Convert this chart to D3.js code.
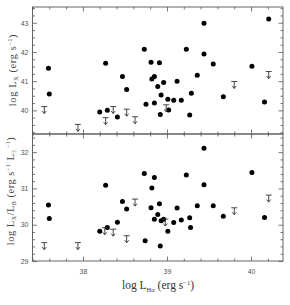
<!DOCTYPE html>
<html>
<head>
<meta charset="utf-8">
<script src="https://cdn.jsdelivr.net/npm/d3@7"></script>
<style>
  body { margin: 0; background: #fff; }
  svg { display: block; }
</style>
</head>
<body>
<script>
// top panel: log Lx vs log L_Halpha
const topX = [37.59, 37.60, 38.27, 38.47, 38.52, 38.73, 38.75, 38.20, 38.29, 38.41,
  39.44, 40.21, 39.23, 39.44, 38.81, 38.91, 39.55, 40.01, 38.85, 38.82,
  39.36, 39.12, 38.96, 38.89, 39.29, 38.93, 39.01, 39.08, 39.17, 39.67,
  38.85, 40.16, 39.02, 38.92, 39.27];
const topY = [41.44, 40.56, 41.61, 41.16, 40.71, 42.09, 40.21, 39.94, 40.00, 39.77,
  42.98, 43.13, 42.09, 41.93, 41.65, 41.63, 41.59, 41.51, 41.16, 41.07,
  41.20, 41.00, 40.95, 40.82, 40.59, 40.53, 40.38, 40.35, 40.35, 40.47,
  40.25, 40.29, 40.01, 39.86, 39.84];
const topLimX = [37.54, 37.94, 38.27, 38.36, 38.52, 38.62, 38.99, 39.80, 40.21];
const topLimY = [40.01, 39.40, 39.63, 40.01, 39.92, 39.66, 40.07, 40.87, 41.21];

// bottom panel: log Lx/LB vs log L_Halpha
const botX = [37.59, 37.60, 38.27, 38.47, 38.52, 38.73, 38.20, 38.29, 38.41, 38.74,
  39.44, 38.85, 39.23, 39.44, 40.01, 38.82, 38.91, 38.81, 39.12, 39.36,
  39.55, 38.89, 38.85, 38.93, 38.96, 39.17, 39.27, 39.08, 39.01, 39.28,
  39.67, 40.16, 38.92];
const botY = [30.54, 30.17, 31.09, 30.64, 30.43, 31.41, 29.82, 29.92, 30.07, 29.56,
  32.11, 31.30, 31.37, 31.10, 31.44, 31.01, 30.58, 30.47, 30.46, 30.52,
  30.52, 30.28, 30.15, 30.11, 30.15, 30.13, 30.19, 30.06, 29.82, 29.92,
  30.23, 30.20, 29.41];
const botLimX = [37.54, 37.94, 38.26, 38.36, 38.52, 38.62, 38.98, 39.80, 40.21];
const botLimY = [29.41, 29.41, 29.82, 29.78, 29.60, 30.61, 30.06, 30.37, 30.72];

const xTicks = [38, 39, 40];
const topTicks = [40, 41, 42, 43];
const botTicks = [29, 30, 31, 32];

const W = 290, H = 305;
const left = 32.5, right = 283;

const svg = d3.select("body").append("svg")
    .attr("width", W)
    .attr("height", H);

const x = d3.scaleLinear().domain([37.4, 40.38]).range([left, right]);
const yTop = d3.scaleLinear().domain([39.19, 43.54]).range([134, 7]);
const yBot = d3.scaleLinear().domain([29, 32.5]).range([261, 134]);

const xMinor = d3.range(37.4, 40.4, 0.2).filter(v => Math.abs(v - Math.round(v)) > 0.01);

function inwardAxis(axisFn, scale, ticks, size, labels, pad) {
    return axisFn(scale)
        .tickValues(ticks)
        .tickSizeInner(-size)
        .tickSizeOuter(0)
        .tickPadding(pad)
        .tickFormat(labels ? d3.format("d") : "");
}

function drawPanel(yScale, yMajor, yMinor, xLabels) {
    const g = svg.append("g");
    const y0 = yScale.range()[0], y1 = yScale.range()[1];

    // bottom / top
    [[d3.axisBottom, y0], [d3.axisTop, y1]].forEach(function(a, i) {
        g.append("g").attr("transform", "translate(0," + a[1] + ")")
            .call(inwardAxis(a[0], x, xMinor, 2.5, false, 0));
        g.append("g")
            .attr("transform", "translate(0," + a[1] + ")")
            .call(inwardAxis(a[0], x, xTicks, 4.5, i === 0 && xLabels, 8));
    });
    // left / right
    [[d3.axisLeft, left], [d3.axisRight, right]].forEach(function(a, i) {
        g.append("g").attr("transform", "translate(" + a[1] + ",0)")
            .call(inwardAxis(a[0], yScale, yMinor, 2.5, false, 0));
        g.append("g").attr("transform", "translate(" + a[1] + ",0)")
            .call(inwardAxis(a[0], yScale, yMajor, 4.5, i === 0, 4));
    });

    g.selectAll(".domain").remove();
    g.selectAll(".tick line").attr("stroke", "#555").attr("stroke-width", 0.8);
    g.selectAll(".tick text")
        .attr("font-family", "Liberation Sans, Arial, sans-serif")
        .attr("font-size", 7)
        .attr("fill", "#555");

    g.append("rect")
        .attr("x", left).attr("y", y1)
        .attr("width", right - left).attr("height", y0 - y1)
        .attr("fill", "none").attr("stroke", "#555").attr("stroke-width", 0.9);
    return g;
}

function drawPoints(g, xs, ys, yScale) {
    g.selectAll("circle.pt")
        .data(xs.map((d, i) => [d, ys[i]]))
        .enter().append("circle")
        .attr("class", "pt")
        .attr("cx", d => x(d[0]))
        .attr("cy", d => yScale(d[1]))
        .attr("r", 2.5)
        .attr("fill", "#000");
}

// upper limits: bar with a downward arrow
function drawLimits(g, xs, ys, yScale) {
    g.selectAll("path.lim")
        .data(xs.map((d, i) => [d, ys[i]]))
        .enter().append("path")
        .attr("class", "lim")
        .attr("d", function(d) {
            const cx = x(d[0]), cy = yScale(d[1]);
            return "M" + (cx - 3) + "," + (cy - 3.5) + "H" + (cx + 3) +
                "M" + cx + "," + (cy - 3.5) + "V" + (cy + 3.5) +
                "M" + (cx - 2) + "," + (cy + 1) + "L" + cx + "," + (cy + 3.5) + "L" + (cx + 2) + "," + (cy + 1);
        })
        .attr("fill", "none")
        .attr("stroke", "#333")
        .attr("stroke-width", 0.9);
}

const topMinor = d3.range(39.25, 43.55, 0.25).filter(v => Math.abs(v - Math.round(v)) > 0.01);
const botMinor = d3.range(29, 32.5, 0.2).filter(v => Math.abs(v - Math.round(v)) > 0.01);

const gTop = drawPanel(yTop, topTicks, topMinor, false);
drawPoints(gTop, topX, topY, yTop);
drawLimits(gTop, topLimX, topLimY, yTop);

const gBot = drawPanel(yBot, botTicks, botMinor, true);
drawPoints(gBot, botX, botY, yBot);
drawLimits(gBot, botLimX, botLimY, yBot);

// axis titles
const serif = "Liberation Serif, Times New Roman, serif";

const xt = svg.append("text")
    .attr("x", 158).attr("y", 289)
    .attr("text-anchor", "middle")
    .attr("font-family", serif).attr("font-size", 11.5).attr("fill", "#333");
xt.append("tspan").text("log L");
xt.append("tspan").attr("font-size", 6.5).attr("dy", 2.5).text("Hα");
xt.append("tspan").attr("dy", -2.5).text(" (erg s");
xt.append("tspan").attr("font-size", 6.5).attr("dy", -4).text("−1");
xt.append("tspan").attr("dy", 4).text(")");

const yt1 = svg.append("text")
    .attr("transform", "translate(16,70) rotate(-90)")
    .attr("text-anchor", "middle")
    .attr("font-family", serif).attr("font-size", 10.5).attr("fill", "#444")
    .attr("letter-spacing", 0.6);
yt1.append("tspan").text("log L");
yt1.append("tspan").attr("font-size", 6).attr("dy", 2).text("X");
yt1.append("tspan").attr("dy", -2).text(" (erg s");
yt1.append("tspan").attr("font-size", 6).attr("dy", -4).text("−1");
yt1.append("tspan").attr("dy", 4).text(")");

const yt2 = svg.append("text")
    .attr("transform", "translate(14,191) rotate(-90)")
    .attr("text-anchor", "middle")
    .attr("font-family", serif).attr("font-size", 10.5).attr("fill", "#444")
    .attr("letter-spacing", 0.5);
yt2.append("tspan").text("log L");
yt2.append("tspan").attr("font-size", 6).attr("dy", 2).text("X");
yt2.append("tspan").attr("dy", -2).text("/L");
yt2.append("tspan").attr("font-size", 6).attr("dy", 2).text("B");
yt2.append("tspan").attr("dy", -2).text(" (erg s");
yt2.append("tspan").attr("font-size", 6).attr("dy", -4).text("−1");
yt2.append("tspan").attr("dy", 4).text(" L");
yt2.append("tspan").attr("font-size", 6).attr("dy", 2).text("☉");
yt2.append("tspan").attr("font-size", 6).attr("dy", -6).text("−1");
yt2.append("tspan").attr("dy", 4).text(")");
</script>
</body>
</html>
